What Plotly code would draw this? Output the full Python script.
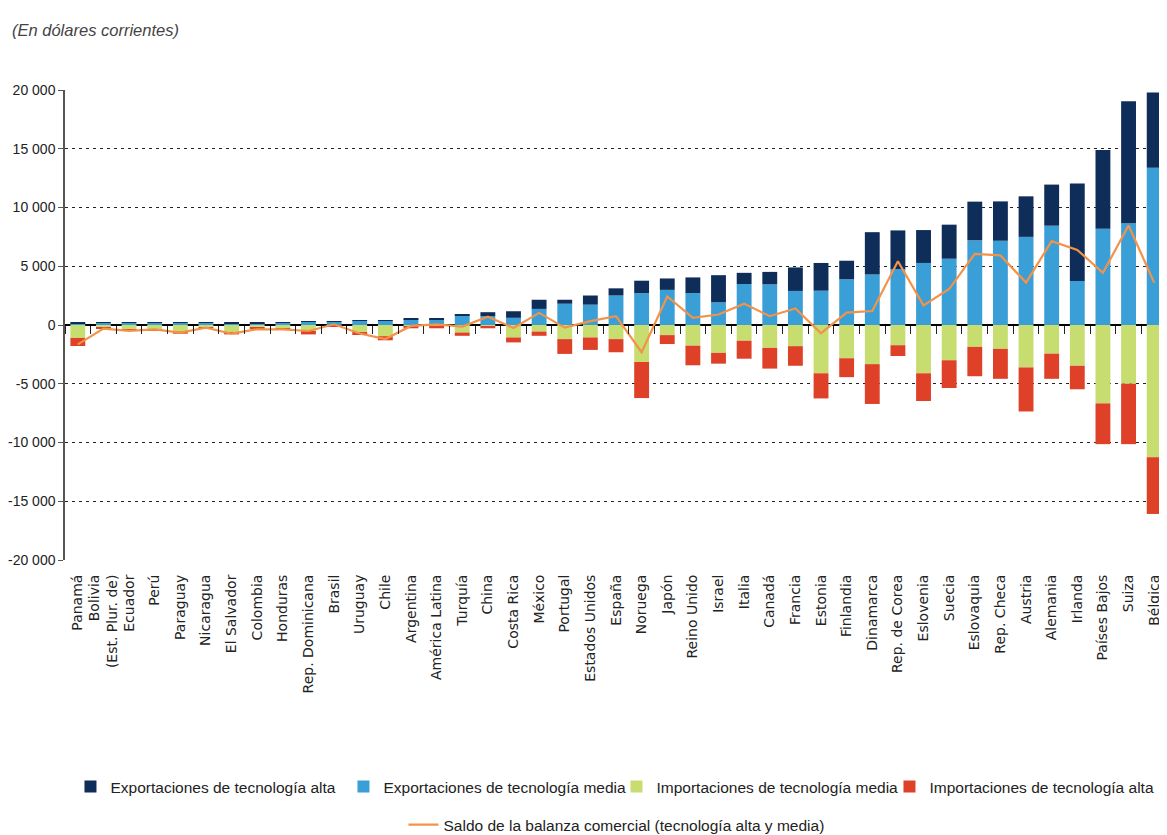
import plotly.graph_objects as go

paises = [
    "Panamá", "Bolivia<br>(Est. Plur. de)", "Ecuador", "Perú", "Paraguay", "Nicaragua",
    "El Salvador", "Colombia", "Honduras", "Rep. Dominicana", "Brasil", "Uruguay", "Chile",
    "Argentina", "América Latina", "Turquía", "China", "Costa Rica", "México", "Portugal",
    "Estados Unidos", "España", "Noruega", "Japón", "Reino Unido", "Israel", "Italia",
    "Canadá", "Francia", "Estonia", "Finlandia", "Dinamarca", "Rep. de Corea", "Eslovenia",
    "Suecia", "Eslovaquia", "Rep. Checa", "Austria", "Alemania", "Irlanda", "Países Bajos",
    "Suiza", "Bélgica",
]

exp_alta = [
    30, 20, 30, 30, 30, 30, 40, 40, 30, 60, 60, 50, 40, 60, 80, 40, 340, 560, 780, 340,
    780, 610, 1060, 970, 1340, 2310, 950, 1060, 2000, 2360, 1580, 3600, 3300, 2800,
    2900, 3300, 3350, 3450, 3500, 8300, 6700, 10400, 6400,
]
exp_media = [
    150, 180, 170, 170, 170, 170, 160, 160, 170, 280, 280, 350, 360, 500, 500, 850, 750,
    610, 1370, 1810, 1730, 2510, 2710, 2990, 2710, 1930, 3490, 3460, 2900, 2920, 3890,
    4300, 4750, 5280, 5640, 7200, 7170, 7500, 8450, 3750, 8200, 8650, 13380,
]
imp_media = [
    -1100, -220, -400, -350, -550, -180, -600, -220, -280, -500, -70, -600, -950, -150,
    -150, -640, -130, -1060, -560, -1200, -1060, -1200, -3150, -860, -1760, -2370, -1340,
    -1950, -1800, -4110, -2830, -3330, -1720, -4110, -3000, -1860, -2030, -3610, -2440,
    -3470, -6670, -5000, -11250,
]
imp_alta = [
    -690, -60, -110, -100, -190, -50, -200, -60, -90, -300, -20, -250, -350, -130, -130,
    -280, -150, -420, -360, -1260, -1060, -1120, -3070, -760, -1670, -920, -1530, -1760,
    -1670, -2140, -1610, -3390, -920, -2360, -2360, -2500, -2550, -3750, -2140, -2000,
    -3470, -5140, -4830,
]
saldo = [
    -1650, -300, -500, -380, -650, -230, -740, -360, -370, -510, 60, -720, -1200, -80, 60,
    -140, 700, -250, 1030, -220, 330, 750, -2320, 2430, 610, 890, 1810, 750, 1400, -700,
    1050, 1190, 5420, 1670, 3060, 6060, 5920, 3610, 7140, 6390, 4440, 8470, 3610,
]

y_ticks = [-20000, -15000, -10000, -5000, 0, 5000, 10000, 15000, 20000]
y_labels = ["-20 000", "-15 000", "-10 000", "-5 000", "0", "5 000", "10 000", "15 000", "20 000"]

# the page adds an 8px body margin, so the figure is a little smaller than the window
W, H = 1159, 827

fig = go.Figure()
fig.add_bar(x=paises, y=exp_media, name="Exportaciones de tecnología media",
            marker_color="#3a9fd6", legendrank=2)
fig.add_bar(x=paises, y=exp_alta, name="Exportaciones de tecnología alta",
            marker_color="#0f2d59", legendrank=1)
fig.add_bar(x=paises, y=imp_media, name="Importaciones de tecnología media",
            marker_color="#c7dd70", legendrank=3)
fig.add_bar(x=paises, y=imp_alta, name="Importaciones de tecnología alta",
            marker_color="#df4128", legendrank=4)
fig.add_scatter(x=paises, y=saldo, mode="lines",
                name="Saldo de la balanza comercial (tecnología alta y media)",
                line=dict(color="#f39249", width=2.2), legend="legend2")
# invisible trace only to carry the tick marks on the zero line
fig.add_scatter(x=paises, y=[0] * len(paises), xaxis="x2", mode="markers",
                marker=dict(opacity=0), showlegend=False, hoverinfo="skip")

fig.update_traces(marker_line_width=0, selector=dict(type="bar"))

fig.update_layout(
    width=W,
    height=H,
    barmode="relative",
    bargap=0.42,
    plot_bgcolor="white",
    paper_bgcolor="white",
    margin=dict(l=52, r=0, t=82, b=275),
    font=dict(family="Liberation Sans, Arial, sans-serif", color="#222"),
    title=dict(text="<i>(En dólares corrientes)</i>", x=4 / W, xanchor="left", xref="container",
               y=1 - 22 / H, yanchor="middle", yref="container",
               font=dict(family="Liberation Sans, Arial, sans-serif", size=16.5, color="#444")),
    xaxis=dict(range=[-0.5, 42.5], showgrid=False, showline=False,
               ticks="outside", ticklen=8, tickcolor="rgba(0,0,0,0)",
               tickangle=-90, tickfont=dict(family="DejaVu Sans, sans-serif", size=14, color="#222")),
    xaxis2=dict(overlaying="x", anchor="free", position=0.5, range=[-0.5, 42.5],
                showticklabels=False, ticks="outside", tickson="boundaries",
                ticklen=8, tickwidth=1.2, tickcolor="#222", showgrid=False, showline=False),
    yaxis=dict(range=[-20000, 20000], tickvals=y_ticks, ticktext=y_labels,
               showgrid=True, gridcolor="#222", griddash="3px,4px", gridwidth=1.3,
               zeroline=True, zerolinecolor="#000", zerolinewidth=2,
               showline=True, linecolor="#555", linewidth=1.5,
               ticks="outside", ticklen=5, tickcolor="#555",
               tickfont=dict(family="Liberation Sans, Arial, sans-serif", size=14, color="#222")),
    legend=dict(orientation="h", x=0.525, xanchor="center", xref="container",
                y=1 - 779 / H, yanchor="middle", yref="container",
                entrywidth=228, entrywidthmode="pixels",
                font=dict(family="Liberation Sans, Arial, sans-serif", size=15.5, color="#222"),
                traceorder="normal"),
    legend2=dict(orientation="h", x=0.525, xanchor="center", xref="container",
                 y=1 - 817 / H, yanchor="middle", yref="container",
                 font=dict(family="Liberation Sans, Arial, sans-serif", size=15.5, color="#222")),
)

fig.write_html("out.html")
